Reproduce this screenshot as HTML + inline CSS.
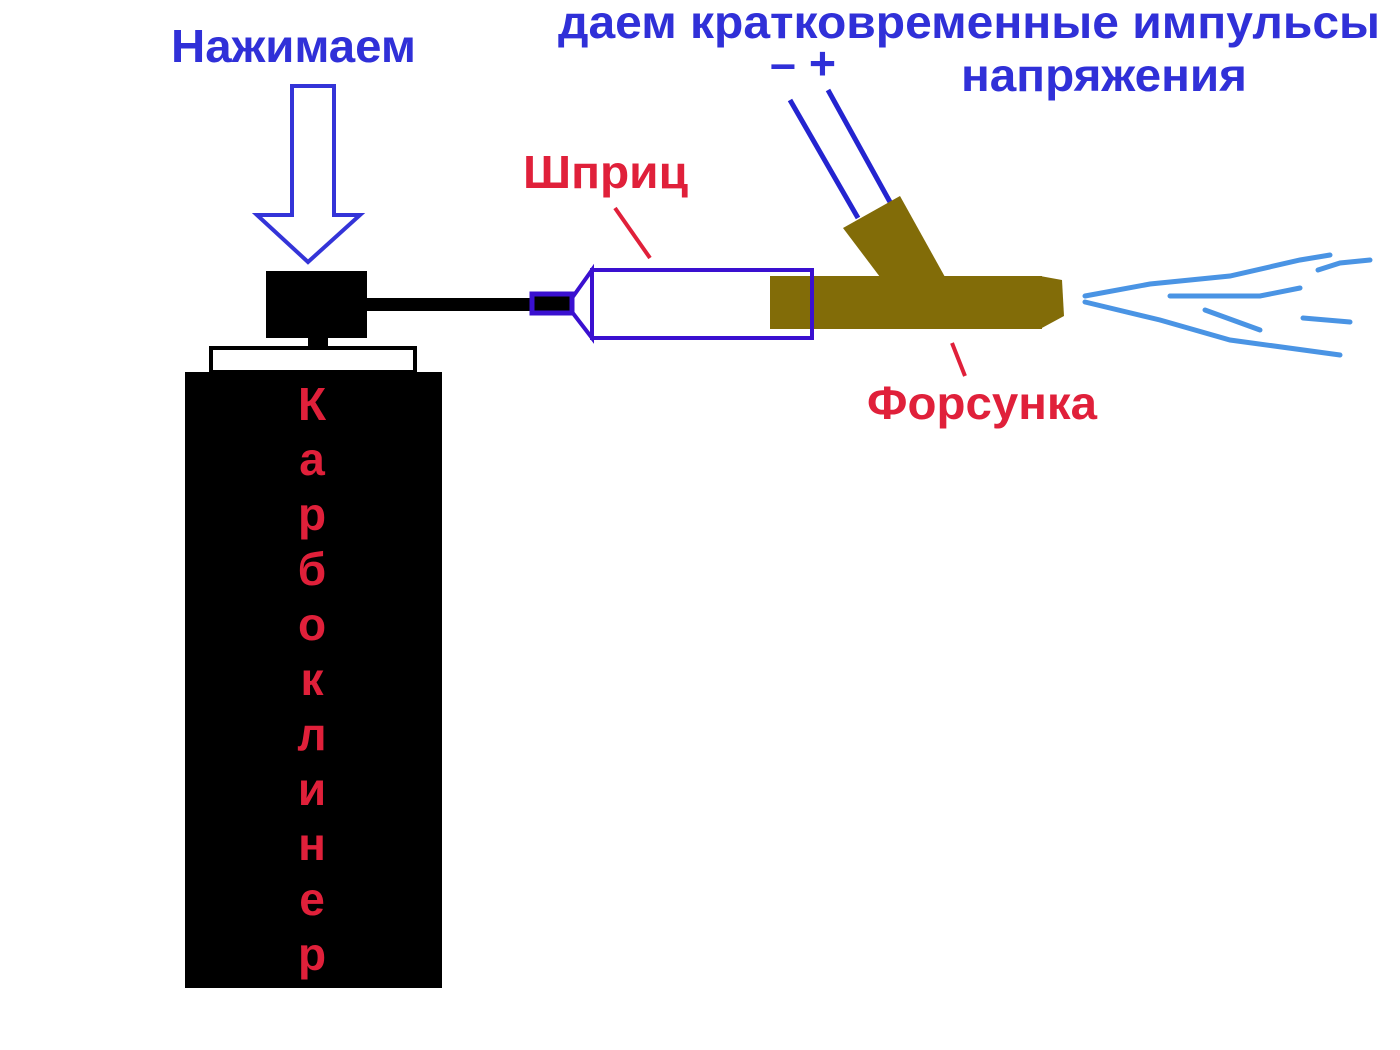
<!DOCTYPE html>
<html><head><meta charset="utf-8"><style>html,body{margin:0;padding:0;background:#fff}svg{display:block}</style></head>
<body>
<svg width="1400" height="1050" viewBox="0 0 1400 1050" xmlns="http://www.w3.org/2000/svg" font-family="'Liberation Sans', 'DejaVu Sans', sans-serif" font-weight="bold">
<rect width="1400" height="1050" fill="#fff"/>
<!-- can -->
<rect x="185" y="372" width="257" height="616" fill="#000"/>
<rect x="211" y="348" width="204" height="24" fill="#fff" stroke="#000" stroke-width="4"/>
<rect x="308" y="336" width="20" height="12" fill="#000"/>
<rect x="266" y="271" width="101" height="67" fill="#000"/>
<rect x="366" y="298" width="166" height="13" fill="#000"/>
<!-- arrow -->
<polygon points="292,86 334,86 334,215 360,215 308,262 257,215 292,215" fill="#fff" stroke="#3434d8" stroke-width="4"/>
<!-- syringe -->
<rect x="532" y="294" width="40" height="19" fill="#000" stroke="#3a10d0" stroke-width="5"/>
<polyline points="572,298 592,270 592,338 572,312" fill="none" stroke="#3a10d0" stroke-width="4"/>
<rect x="592" y="270" width="220" height="68" fill="#fff" stroke="#3a10d0" stroke-width="4"/>
<!-- wires -->
<line x1="790" y1="100" x2="858" y2="218" stroke="#2424d0" stroke-width="5"/>
<line x1="828" y1="90" x2="890" y2="202" stroke="#2424d0" stroke-width="5"/>
<!-- nozzle -->
<polygon points="843,228 900,196 945,277 880,277" fill="#826c08"/>
<rect x="770" y="276" width="272" height="53" fill="#826c08"/>
<polygon points="1040,276 1062,280 1064,316 1040,329" fill="#826c08"/>
<rect x="810" y="270" width="4" height="68" fill="#3a10d0"/>
<!-- spray -->
<g fill="none" stroke="#4a94e4" stroke-width="5" stroke-linecap="round">
<polyline points="1085,296 1150,284 1230,276 1300,260 1330,255"/>
<polyline points="1318,270 1340,263 1370,260"/>
<polyline points="1170,296 1260,296 1300,288"/>
<polyline points="1085,302 1160,320 1230,340 1340,355"/>
<polyline points="1205,310 1260,330"/>
<polyline points="1303,318 1350,322"/>
</g>
<!-- red labels -->
<line x1="615" y1="208" x2="650" y2="258" stroke="#e0203a" stroke-width="4"/>
<line x1="952" y1="343" x2="965" y2="376" stroke="#e0203a" stroke-width="4"/>
<g fill="#e0203a" font-size="46">
<text x="523" y="188" textLength="165" lengthAdjust="spacingAndGlyphs">Шприц</text>
<text x="867" y="419" textLength="230" lengthAdjust="spacingAndGlyphs">Форсунка</text>
<g text-anchor="middle">
<text x="312" y="420">К</text><text x="312" y="475">а</text><text x="312" y="530">р</text>
<text x="312" y="585">б</text><text x="312" y="640">о</text><text x="312" y="695">к</text>
<text x="312" y="750">л</text><text x="312" y="805">и</text><text x="312" y="860">н</text>
<text x="312" y="915">е</text><text x="312" y="970">р</text>
</g>
</g>
<!-- blue labels -->
<g fill="#3030d8" font-size="46">
<text x="171" y="62" textLength="245" lengthAdjust="spacingAndGlyphs">Нажимаем</text>
<text x="558" y="38" textLength="822" lengthAdjust="spacingAndGlyphs">даем кратковременные импульсы</text>
<text x="961" y="91" textLength="286" lengthAdjust="spacingAndGlyphs">напряжения</text>
<text x="770" y="79" textLength="66" lengthAdjust="spacingAndGlyphs">– +</text>
</g>
</svg>
</body></html>
